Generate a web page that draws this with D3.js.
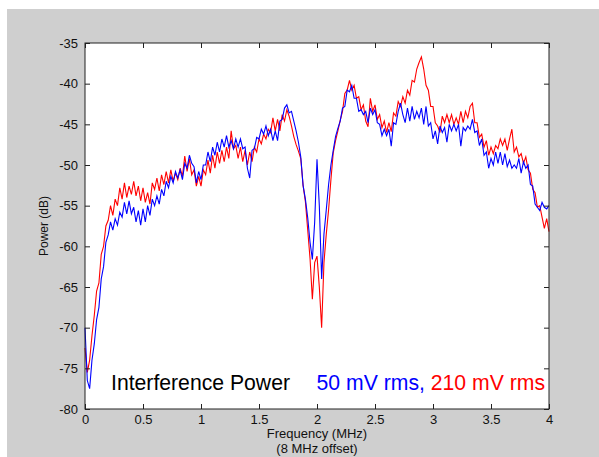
<!DOCTYPE html>
<html>
<head>
<meta charset="utf-8">
<script src="https://cdn.jsdelivr.net/npm/d3@7"></script>
<style>
  html, body { margin: 0; padding: 0; background: #fff; }
  svg { display: block; }
</style>
</head>
<body>
<div id="chart"></div>
<script>
// frequency grid in MHz (8 MHz offset), one sample every 0.02 MHz
var freqStep = 0.02;

// 50 mV rms interference, power in dB
var blue50 = [
  -70,-76.5,-77.5,-74,-72,-69,-67.5,-64,-62.5,-59.5,
  -58.6,-57,-58,-56.6,-57.4,-55.8,-56.4,-54.6,-56,-54.4,
  -56,-55.2,-57,-55.6,-57.4,-55.4,-57,-55,-56.2,-54.2,
  -55,-53.8,-54.8,-53,-53.8,-52,-52.8,-51.4,-52.2,-50.8,
  -51.6,-50.6,-51.8,-49.8,-50.4,-48.8,-49.8,-50.2,-52.2,-50.8,
  -51.8,-50,-50,-48.4,-49.6,-47.8,-48.8,-47.2,-48.4,-46.8,
  -47.8,-46.4,-47.8,-47,-48,-46.8,-47.8,-46.8,-48,-47.8,
  -50.4,-51.6,-48.2,-48,-46.6,-46.8,-45.6,-46.2,-45.2,-46.4,
  -45.6,-47,-45.8,-47,-44.6,-44.4,-43,-42.6,-43.6,-43.4,
  -44.6,-45.8,-47.2,-49,-52.5,-54.2,-56.5,-59.5,-61.6,-57,
  -49.3,-55,-64,-58.5,-55.5,-52.4,-50,-48.2,-46.5,-45.5,
  -44.6,-43,-42.8,-40.8,-41,-40.2,-41.8,-41.8,-43.4,-43.2,
  -43.8,-43.4,-44.8,-43,-43.8,-43.2,-44.8,-45,-46.4,-45.6,
  -46.4,-45.6,-47.7,-44.8,-45,-43.4,-42.4,-43.8,-44.8,-43,
  -44.6,-42.8,-44.4,-43.4,-44.2,-43,-45,-42.8,-45.2,-44.8,
  -46.8,-45.8,-47.4,-45.2,-46,-45.4,-47.2,-45,-45.8,-45,
  -45.8,-45,-47.7,-45.4,-45.8,-45.2,-45.6,-44.4,-46,-45.8,
  -47.6,-46.8,-48.8,-48.4,-50.4,-49.2,-50,-48.4,-49.8,-48.4,
  -50,-48.6,-50.2,-49.4,-50.4,-50,-50.4,-49.2,-51,-49.6,
  -50.4,-50,-52.4,-52.6,-54.8,-55.2,-55.6,-54.6,-55.2,-55.4,
  -55
];

// 210 mV rms interference, power in dB
var red210 = [
  -72.5,-75.5,-74,-71,-68.5,-65.5,-64.5,-61,-60,-57.5,
  -56.8,-55,-56.2,-54.2,-55,-52.8,-54.2,-52.2,-54,-52.6,
  -53.6,-52,-53.8,-52.6,-54.4,-52.8,-54.6,-53.4,-54.8,-52.2,
  -53,-51.6,-53.2,-51.2,-52.4,-50.8,-52.2,-50.6,-52,-51,
  -51.8,-50.4,-51.4,-48.9,-50.8,-49.2,-51.2,-50.6,-52.6,-51.4,
  -52.6,-50.6,-51.2,-49.4,-51,-48.8,-50.4,-48.4,-49.8,-48.2,
  -49.6,-47.8,-49.2,-45.8,-48,-47.6,-49.2,-47.8,-49.6,-48.2,
  -50,-48.4,-49.6,-47.8,-48.4,-46.8,-47.4,-46.2,-46.8,-45.6,
  -46,-44.2,-45.8,-44.4,-45.8,-43.8,-44.6,-43.2,-44,-45.2,
  -46.5,-47.5,-48.3,-49.2,-52.5,-54.5,-58,-61.5,-66.5,-62,
  -61.2,-65,-70,-62,-58.5,-55.5,-51.8,-48.5,-47,-45.8,
  -44.5,-43.4,-41.2,-40.8,-39.6,-40.8,-40.2,-41.8,-41.6,-43.2,
  -42.6,-44.6,-45.3,-41.8,-43.4,-42.6,-44.4,-43.8,-45.4,-44.6,
  -46,-44.8,-45.9,-43.6,-44,-42.2,-42.8,-41.6,-42.4,-40.8,
  -41.4,-39.6,-39.8,-38.2,-37.4,-36.7,-38.2,-40.2,-40.8,-42.8,
  -42.8,-44.8,-45.2,-46,-44,-44.8,-43.8,-44.8,-43.8,-45,
  -44.2,-45,-43.4,-44.8,-43.4,-44.2,-42.8,-42.4,-44.8,-44.8,
  -46.6,-46.2,-47.8,-47,-48.8,-47.8,-48.6,-47.6,-48,-46.8,
  -47.6,-46.8,-48.2,-46.8,-45.6,-48.4,-47.8,-49,-48.6,-49.8,
  -49,-50.6,-51,-53,-53.4,-55.2,-55,-56.4,-57.8,-56.6,
  -58.2
];

var xTicks = [0, 0.5, 1, 1.5, 2, 2.5, 3, 3.5, 4];
var yTicks = [-80, -75, -70, -65, -60, -55, -50, -45, -40, -35];

function createSpectrumChart(htmlId) {
    var W = 599, H = 457;
    var margin = {top: 43, right: 50, bottom: 48, left: 85},
        width = 549 - margin.left,
        height = 409 - margin.top;
    var font = "'Liberation Sans', Arial, sans-serif";

    var svg = d3.select(htmlId).append("svg")
        .attr("width", W)
        .attr("height", H);

    // figure background (grey, MATLAB style)
    svg.append("rect")
        .attr("x", 7).attr("y", 9)
        .attr("width", W - 7).attr("height", H - 9)
        .attr("fill", "#cfcfcf");

    var g = svg.append("g")
        .attr("transform", "translate(" + margin.left + "," + margin.top + ")");

    // axes area
    g.append("rect")
        .attr("width", width)
        .attr("height", height)
        .attr("fill", "#fff");

    var x = d3.scaleLinear().domain([0, 4]).range([0, width]);
    var y = d3.scaleLinear().domain([-80, -35]).range([height, 0]);

    var line = d3.line()
        .x(function(d, i) { return x(i * freqStep); })
        .y(function(d) { return y(d); });

    var plot = g.append("g");
    plot.append("path")
        .datum(red210)
        .attr("fill", "none")
        .attr("stroke", "#ff0000")
        .attr("stroke-width", 1.1)
        .attr("d", line);
    plot.append("path")
        .datum(blue50)
        .attr("fill", "none")
        .attr("stroke", "#0000ff")
        .attr("stroke-width", 1.1)
        .attr("d", line);

    // plain hyphen minus like the original
    var fmt = function(d) { return String(d); };

    // bottom + top axes, ticks pointing inward
    var xb = g.append("g")
        .attr("transform", "translate(0," + height + ")")
        .call(d3.axisBottom(x).tickValues(xTicks).tickSizeInner(-5).tickSizeOuter(0).tickFormat(fmt));
    var xt = g.append("g")
        .call(d3.axisTop(x).tickValues(xTicks).tickSizeInner(-5).tickSizeOuter(0).tickFormat(""));
    // left + right axes
    var yl = g.append("g")
        .call(d3.axisLeft(y).tickValues(yTicks).tickSizeInner(-5).tickSizeOuter(0).tickPadding(7).tickFormat(fmt));
    var yr = g.append("g")
        .attr("transform", "translate(" + width + ",0)")
        .call(d3.axisRight(y).tickValues(yTicks).tickSizeInner(-5).tickSizeOuter(0).tickFormat(""));

    [xb, xt, yl, yr].forEach(function(a) {
        a.select(".domain").remove();
        a.selectAll("line").attr("stroke", "#222");
        a.selectAll("text")
            .attr("font-family", font)
            .attr("font-size", 13)
            .attr("fill", "#111");
    });
    xb.selectAll("text").attr("dy", "0.71em").attr("y", 6);

    // box
    g.append("rect")
        .attr("width", width)
        .attr("height", height)
        .attr("fill", "none")
        .attr("stroke", "#222")
        .attr("stroke-width", 1);

    // axis labels
    svg.append("text")
        .attr("x", margin.left + width / 2)
        .attr("y", 438)
        .attr("text-anchor", "middle")
        .attr("font-family", font)
        .attr("font-size", 13)
        .attr("fill", "#111")
        .text("Frequency (MHz)");
    svg.append("text")
        .attr("x", margin.left + width / 2)
        .attr("y", 453)
        .attr("text-anchor", "middle")
        .attr("font-family", font)
        .attr("font-size", 13)
        .attr("fill", "#111")
        .text("(8 MHz offset)");
    svg.append("text")
        .attr("transform", "translate(48," + (margin.top + height / 2) + ") rotate(-90)")
        .attr("text-anchor", "middle")
        .attr("font-family", font)
        .attr("font-size", 12)
        .attr("fill", "#111")
        .text("Power (dB)");

    // annotation
    svg.append("text")
        .attr("x", 111)
        .attr("y", 390)
        .attr("font-family", font)
        .attr("font-size", 21.2)
        .attr("fill", "#000")
        .text("Interference Power");
    var ann = svg.append("text")
        .attr("x", 545)
        .attr("y", 390)
        .attr("text-anchor", "end")
        .attr("font-family", font)
        .attr("font-size", 21.2);
    ann.append("tspan").attr("fill", "#0000ff").text("50 mV rms, ");
    ann.append("tspan").attr("fill", "#ff0000").text("210 mV rms");
}

createSpectrumChart("#chart");
</script>
</body>
</html>
